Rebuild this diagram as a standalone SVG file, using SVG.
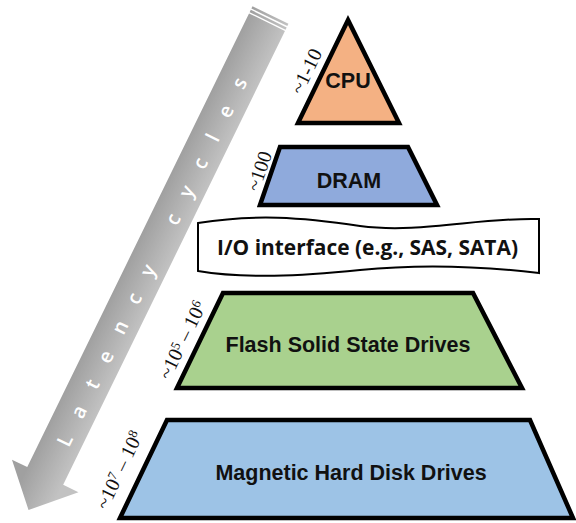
<svg xmlns="http://www.w3.org/2000/svg" width="576" height="523" viewBox="0 0 576 523">
  <style>
    .tier { stroke: #000; stroke-width: 4.5; stroke-linejoin: miter; }
    .name { font-family: "Liberation Sans", Arial, sans-serif; font-weight: bold; font-size: 21.5px; fill: #111; text-anchor: middle; }
    .lat { font-family: "Liberation Serif", "Times New Roman", serif; font-size: 20px; fill: #111; text-anchor: middle; }
    .sup { font-size: 13px; }
  </style>
  <defs>
    <linearGradient id="arrowShade" gradientUnits="userSpaceOnUse" x1="0" y1="20" x2="0" y2="-20">
      <stop offset="0" stop-color="#a0a0a0"/>
      <stop offset="1" stop-color="#c2c2c2"/>
    </linearGradient>
  </defs>

  <!-- latency arrow (striped tail) -->
  <g id="latency-arrow" transform="translate(270.5,15) rotate(116.05)" fill="url(#arrowShade)">
    <rect x="0" y="-20" width="2.6" height="40"/>
    <rect x="4" y="-20" width="2.6" height="40"/>
    <path d="M8,-20 L513,-20 L513,-37 L551,0 L513,37 L513,20 L8,20 Z"/>
  </g>
  <text transform="translate(152,262) rotate(-63.95)" dy="0.35em" text-anchor="middle"
        font-family="'Open Sans', 'Liberation Sans', sans-serif" font-size="20" font-weight="600" fill="#fff"
        textLength="408" lengthAdjust="spacing">Latency cycles</text>

  <!-- storage tiers -->
  <g id="cpu">
    <path class="tier" fill="#f4b183" d="M348,20 L399,123 L298,123 Z"/>
    <text class="name" x="348" y="88">CPU</text>
    <text class="lat" transform="translate(306,71) rotate(-64)" dy="0.35em">~1-10</text>
  </g>

  <g id="dram">
    <path class="tier" fill="#8faadc" d="M280,147 L408,147 L437,205 L260,205 Z"/>
    <text class="name" x="349" y="188">DRAM</text>
    <text class="lat" transform="translate(259,171) rotate(-71)" dy="0.35em">~100</text>
  </g>

  <g id="io-interface">
    <path fill="#fff" stroke="#000" stroke-width="2"
          d="M198,223 C255,214 300,217 360,226 C420,234 480,217 539,219 L539,273 C480,266 420,264 360,270 C300,276 245,279 198,271 Z"/>
    <text x="367.5" y="255" text-anchor="middle" font-family="'Open Sans', 'Liberation Sans', sans-serif"
          font-weight="700" font-size="21" fill="#111" textLength="301" lengthAdjust="spacingAndGlyphs">I/O interface (e.g., SAS, SATA)</text>
  </g>

  <g id="flash-ssd">
    <path class="tier" fill="#a9d18e" d="M223,293 L473,293 L522,388 L177,388 Z"/>
    <text class="name" x="348" y="352">Flash Solid State Drives</text>
    <text class="lat" transform="translate(182,340) rotate(-64)" dy="0.35em">~10<tspan class="sup" dy="-6">5</tspan><tspan dy="6"> – 10</tspan><tspan class="sup" dy="-6">6</tspan></text>
  </g>

  <g id="magnetic-hdd">
    <path class="tier" fill="#9dc3e6" d="M167,420 L530,420 L573,518 L120,518 Z"/>
    <text class="name" x="351" y="480">Magnetic Hard Disk Drives</text>
    <text class="lat" transform="translate(119,470) rotate(-64.4)" dy="0.35em">~10<tspan class="sup" dy="-6">7</tspan><tspan dy="6"> – 10</tspan><tspan class="sup" dy="-6">8</tspan></text>
  </g>
</svg>
